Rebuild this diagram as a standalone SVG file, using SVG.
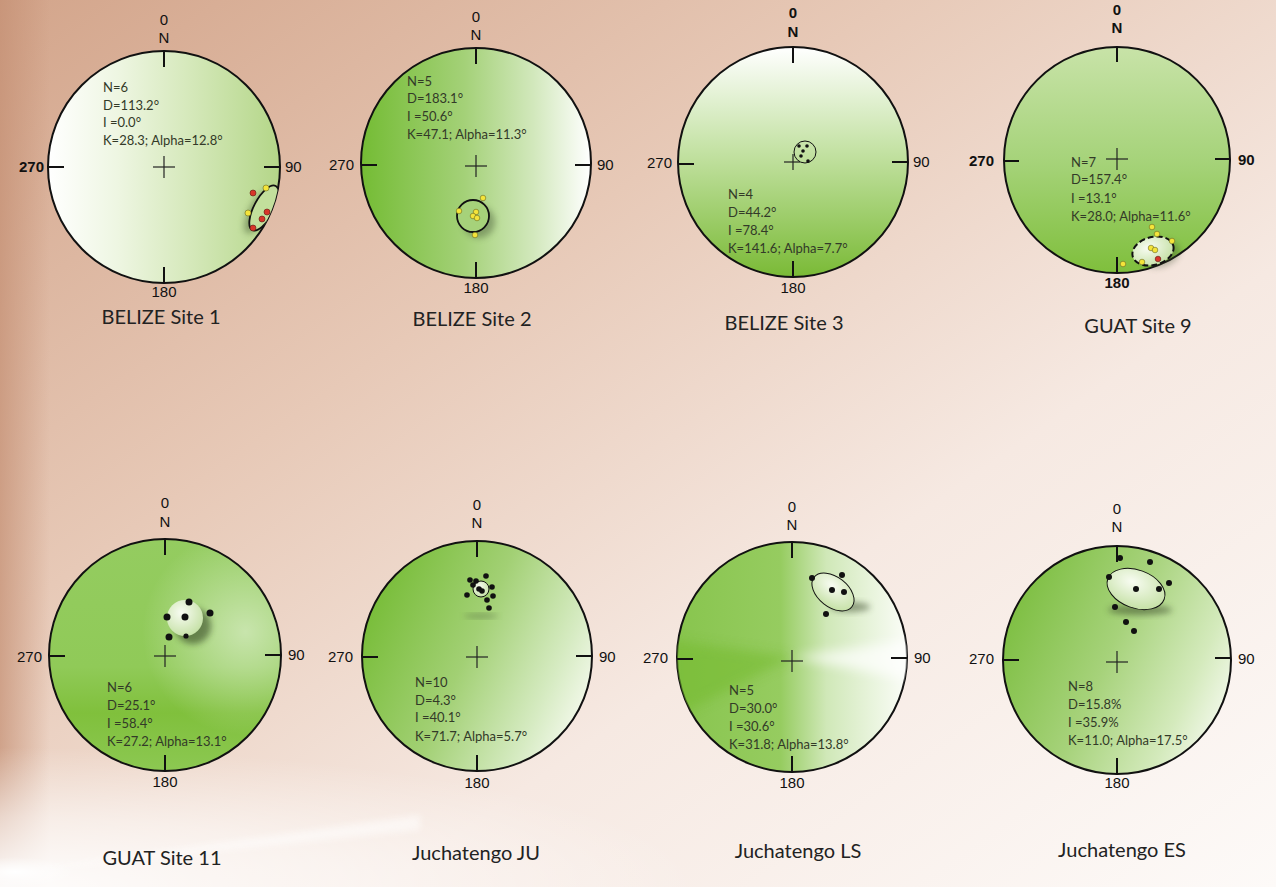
<svg xmlns="http://www.w3.org/2000/svg" width="1276" height="887" viewBox="0 0 1276 887">
<defs>
<style>
.rim{stroke:#111;stroke-width:2}
.tk{stroke:#111;stroke-width:2}
.cr{stroke:#222;stroke-width:1.2}
.lb{font-family:"Liberation Sans",Arial,sans-serif;font-size:15px;fill:#111}
.lbb{font-family:"Liberation Sans",Arial,sans-serif;font-size:15px;fill:#111;font-weight:bold}
.st{font-family:Lato,"Open Sans",sans-serif;font-size:13px;fill:#333a28}
.ti{font-family:Lato,"Open Sans",sans-serif;font-size:20px;fill:#222;text-anchor:middle}
.yd{fill:#f4e43a;stroke:#6a6a20;stroke-width:0.6}
.rd{fill:#d8352a;stroke:#5a1a10;stroke-width:0.6}
.bd{fill:#111}
</style>
<linearGradient id="bg" x1="0" y1="0" x2="1" y2="1">
<stop offset="0" stop-color="#d3a58b"/>
<stop offset="0.35" stop-color="#e7c9b7"/>
<stop offset="0.65" stop-color="#f6e9e2"/>
<stop offset="1" stop-color="#fdfaf8"/>
</linearGradient>
<linearGradient id="edge" x1="0" y1="0" x2="1" y2="0">
<stop offset="0" stop-color="#c48f73" stop-opacity="0.7"/>
<stop offset="1" stop-color="#c48f73" stop-opacity="0"/>
</linearGradient>
<radialGradient id="glow" cx="0" cy="887" r="700" gradientUnits="userSpaceOnUse" gradientTransform="translate(0 887) scale(1 0.2) translate(0 -887)">
<stop offset="0" stop-color="#ffffff" stop-opacity="0.95"/>
<stop offset="0.5" stop-color="#ffffff" stop-opacity="0.55"/>
<stop offset="1" stop-color="#ffffff" stop-opacity="0"/>
</radialGradient>
<radialGradient id="spot" cx="15" cy="872" r="60" gradientUnits="userSpaceOnUse" gradientTransform="translate(15 872) scale(1 0.25) translate(-15 -872)">
<stop offset="0" stop-color="#ffffff" stop-opacity="1"/>
<stop offset="1" stop-color="#ffffff" stop-opacity="0"/>
</radialGradient>
<linearGradient id="g1" x1="0" y1="0" x2="1" y2="0">
<stop offset="0" stop-color="#ffffff"/>
<stop offset="0.3" stop-color="#eef6e2"/>
<stop offset="0.6" stop-color="#d6e9bc"/>
<stop offset="1" stop-color="#b4d688"/>
</linearGradient>
<linearGradient id="g2" x1="0" y1="0" x2="1" y2="0">
<stop offset="0" stop-color="#74bc34"/>
<stop offset="0.45" stop-color="#a4d178"/>
<stop offset="0.75" stop-color="#d2e8bc"/>
<stop offset="1" stop-color="#ffffff"/>
</linearGradient>
<linearGradient id="g3" x1="0" y1="0" x2="0" y2="1">
<stop offset="0" stop-color="#ffffff"/>
<stop offset="0.45" stop-color="#c4e2a4"/>
<stop offset="1" stop-color="#7aba36"/>
</linearGradient>
<linearGradient id="g4" x1="0" y1="0" x2="0" y2="1">
<stop offset="0" stop-color="#c8e3a8"/>
<stop offset="0.5" stop-color="#a6d37a"/>
<stop offset="1" stop-color="#7fbf3c"/>
</linearGradient>
<linearGradient id="g5" x1="0" y1="0" x2="0" y2="1">
<stop offset="0" stop-color="#94cc60"/>
<stop offset="0.55" stop-color="#90ca58"/>
<stop offset="0.75" stop-color="#80c03c"/>
<stop offset="1" stop-color="#8cc852"/>
</linearGradient>
<radialGradient id="g5b" cx="0.85" cy="0.4" r="0.45">
<stop offset="0" stop-color="#ffffff" stop-opacity="0.5"/>
<stop offset="1" stop-color="#ffffff" stop-opacity="0"/>
</radialGradient>
<linearGradient id="g6" x1="0" y1="0.3" x2="1" y2="0.75">
<stop offset="0" stop-color="#76bc36"/>
<stop offset="0.45" stop-color="#a2d074"/>
<stop offset="0.8" stop-color="#d6ebc2"/>
<stop offset="1" stop-color="#f8fbf2"/>
</linearGradient>
<linearGradient id="g7" x1="0" y1="0" x2="1" y2="0">
<stop offset="0" stop-color="#88c54e"/>
<stop offset="0.45" stop-color="#96cc60"/>
<stop offset="0.65" stop-color="#d0e8b8"/>
<stop offset="1" stop-color="#fbfdf8"/>
</linearGradient>
<linearGradient id="g8" x1="0" y1="0.3" x2="1" y2="0.75">
<stop offset="0" stop-color="#7cbe40"/>
<stop offset="0.45" stop-color="#a6d27a"/>
<stop offset="0.8" stop-color="#d4eabc"/>
<stop offset="1" stop-color="#f6faf0"/>
</linearGradient>
<radialGradient id="lite" cx="0.4" cy="0.35" r="0.7">
<stop offset="0" stop-color="#f8fcf2"/>
<stop offset="1" stop-color="#c4e0a4"/>
</radialGradient>
<filter id="blur" x="-50%" y="-50%" width="200%" height="200%"><feGaussianBlur stdDeviation="3"/></filter>
<filter id="blur6" x="-50%" y="-50%" width="200%" height="200%"><feGaussianBlur stdDeviation="6"/></filter>
<clipPath id="c1"><circle cx="164" cy="167" r="116"/></clipPath>
<clipPath id="c7"><circle cx="792" cy="657" r="115"/></clipPath>
</defs>

<rect width="1276" height="887" fill="url(#bg)"/>
<rect width="50" height="887" fill="url(#edge)"/>
<rect x="0" y="700" width="720" height="187" fill="url(#glow)"/>
<rect x="0" y="840" width="90" height="47" fill="url(#spot)"/>
<polygon points="15,872 420,815 420,830" fill="#ffffff" opacity="0.5" filter="url(#blur)"/>

<g id="belize1">
<circle cx="164" cy="167" r="116" fill="url(#g1)" class="rim"/>
<line x1="164" y1="51" x2="164" y2="67" class="tk"/>
<line x1="164" y1="283" x2="164" y2="267" class="tk"/>
<line x1="48" y1="167" x2="64" y2="167" class="tk"/>
<line x1="280" y1="167" x2="264" y2="167" class="tk"/>
<line x1="153" y1="167" x2="175" y2="167" class="cr"/>
<line x1="164" y1="156" x2="164" y2="178" class="cr"/>
<text x="164" y="25" class="lb" text-anchor="middle">0</text>
<text x="164" y="43" class="lb" text-anchor="middle">N</text>
<text x="164" y="297" class="lb" text-anchor="middle">180</text>
<text x="44" y="172" class="lbb" text-anchor="end">270</text>
<text x="285" y="172" class="lb">90</text>
<text x="103" y="92" class="st">N=6</text>
<text x="103" y="110" class="st">D=113.2°</text>
<text x="103" y="127" class="st">I =0.0°</text>
<text x="103" y="145" class="st">K=28.3; Alpha=12.8°</text>
<g clip-path="url(#c1)">
<ellipse cx="258" cy="212" rx="24" ry="9" transform="rotate(-62 258 212)" fill="#556b40" opacity="0.55" filter="url(#blur)"/>
<ellipse cx="264" cy="208" rx="25" ry="10" transform="rotate(-62 264 208)" fill="#c2df9c" stroke="#111" stroke-width="1.8"/>
</g>
<circle cx="253" cy="193" r="3" class="rd"/>
<circle cx="266" cy="188" r="3" class="yd"/>
<circle cx="248" cy="213" r="3" class="yd"/>
<circle cx="267" cy="212" r="3" class="rd"/>
<circle cx="262" cy="219" r="3" class="rd"/>
<circle cx="253" cy="228" r="3" class="rd"/>
<text x="161" y="324" class="ti">BELIZE Site 1</text>
</g>

<g id="belize2">
<circle cx="476" cy="163" r="115" fill="url(#g2)" class="rim"/>
<line x1="476" y1="48" x2="476" y2="64" class="tk"/>
<line x1="476" y1="278" x2="476" y2="262" class="tk"/>
<line x1="361" y1="165" x2="377" y2="165" class="tk"/>
<line x1="591" y1="165" x2="575" y2="165" class="tk"/>
<line x1="465" y1="166" x2="487" y2="166" class="cr"/>
<line x1="476" y1="155" x2="476" y2="177" class="cr"/>
<text x="476" y="22" class="lb" text-anchor="middle">0</text>
<text x="476" y="40" class="lb" text-anchor="middle">N</text>
<text x="476" y="293" class="lb" text-anchor="middle">180</text>
<text x="354" y="170" class="lb" text-anchor="end">270</text>
<text x="597" y="170" class="lb">90</text>
<text x="407" y="86" class="st">N=5</text>
<text x="407" y="103" class="st">D=183.1°</text>
<text x="407" y="121" class="st">I =50.6°</text>
<text x="407" y="139" class="st">K=47.1; Alpha=11.3°</text>
<circle cx="479" cy="222" r="16" fill="#4a5a3a" opacity="0.45" filter="url(#blur)"/>
<circle cx="473" cy="216" r="16" fill="#a6d27a" stroke="#111" stroke-width="1.8"/>
<circle cx="483" cy="198" r="2.8" class="yd"/>
<circle cx="459" cy="211" r="2.8" class="yd"/>
<circle cx="476" cy="212" r="2.8" class="yd"/>
<circle cx="473" cy="216" r="2.8" class="yd"/>
<circle cx="477" cy="218" r="2.8" class="yd"/>
<circle cx="475" cy="235" r="2.8" class="yd"/>
<text x="472" y="326" class="ti">BELIZE Site 2</text>
</g>

<g id="belize3">
<circle cx="793" cy="162" r="115" fill="url(#g3)" class="rim"/>
<line x1="793" y1="47" x2="793" y2="63" class="tk"/>
<line x1="793" y1="277" x2="793" y2="261" class="tk"/>
<line x1="678" y1="164" x2="694" y2="164" class="tk"/>
<line x1="908" y1="162" x2="892" y2="162" class="tk"/>
<line x1="784" y1="162" x2="800" y2="162" class="cr"/>
<line x1="793" y1="154" x2="793" y2="170" class="cr"/>
<text x="793" y="18" class="lbb" text-anchor="middle">0</text>
<text x="793" y="37" class="lbb" text-anchor="middle">N</text>
<text x="793" y="293" class="lb" text-anchor="middle">180</text>
<text x="672" y="168" class="lb" text-anchor="end">270</text>
<text x="913" y="167" class="lb">90</text>
<text x="728" y="199" class="st">N=4</text>
<text x="728" y="217" class="st">D=44.2°</text>
<text x="728" y="235" class="st">I =78.4°</text>
<text x="728" y="253" class="st">K=141.6; Alpha=7.7°</text>
<circle cx="805" cy="152" r="11" fill="none" stroke="#111" stroke-width="1"/>
<circle cx="799" cy="146" r="1.8" class="bd"/>
<circle cx="807" cy="146" r="1.8" class="bd"/>
<circle cx="803" cy="151" r="1.8" class="bd"/>
<circle cx="801" cy="156" r="1.8" class="bd"/>
<circle cx="808" cy="161" r="1.8" class="bd"/>
<text x="784" y="330" class="ti">BELIZE Site 3</text>
</g>

<g id="guat9">
<circle cx="1117" cy="160" r="113" fill="url(#g4)" class="rim"/>
<line x1="1117" y1="47" x2="1117" y2="62" class="tk"/>
<line x1="1117" y1="273" x2="1117" y2="257" class="tk"/>
<line x1="1004" y1="161" x2="1019" y2="161" class="tk"/>
<line x1="1230" y1="159" x2="1215" y2="159" class="tk"/>
<line x1="1106" y1="159" x2="1128" y2="159" class="cr"/>
<line x1="1117" y1="148" x2="1117" y2="170" class="cr"/>
<text x="1117" y="15" class="lbb" text-anchor="middle">0</text>
<text x="1117" y="33" class="lbb" text-anchor="middle">N</text>
<text x="1117" y="288" class="lbb" text-anchor="middle">180</text>
<text x="994" y="166" class="lbb" text-anchor="end">270</text>
<text x="1238" y="165" class="lbb">90</text>
<text x="1071" y="167" class="st">N=7</text>
<text x="1071" y="184" class="st">D=157.4°</text>
<text x="1071" y="203" class="st">I =13.1°</text>
<text x="1071" y="221" class="st">K=28.0; Alpha=11.6°</text>
<ellipse cx="1160" cy="254" rx="20" ry="13" transform="rotate(-15 1160 254)" fill="#3a4a2a" opacity="0.35" filter="url(#blur)"/>
<ellipse cx="1153" cy="251" rx="21" ry="14" transform="rotate(-15 1153 251)" fill="url(#lite)" stroke="#111" stroke-width="2" stroke-dasharray="6 3"/>
<circle cx="1152" cy="227" r="2.8" class="yd"/>
<circle cx="1157" cy="234" r="2.8" class="yd"/>
<circle cx="1172" cy="241" r="2.8" class="yd"/>
<circle cx="1151" cy="248" r="2.8" class="yd"/>
<circle cx="1155" cy="250" r="2.8" class="yd"/>
<circle cx="1142" cy="262" r="2.8" class="yd"/>
<circle cx="1123" cy="264" r="2.8" class="yd"/>
<circle cx="1158" cy="259" r="2.8" class="rd"/>
<text x="1138" y="333" class="ti">GUAT Site 9</text>
</g>

<g id="guat11">
<circle cx="165" cy="655" r="116" fill="url(#g5)" class="rim"/>
<circle cx="165" cy="655" r="115" fill="url(#g5b)"/>
<line x1="165" y1="539" x2="165" y2="555" class="tk"/>
<line x1="165" y1="771" x2="165" y2="755" class="tk"/>
<line x1="49" y1="656" x2="65" y2="656" class="tk"/>
<line x1="281" y1="655" x2="265" y2="655" class="tk"/>
<line x1="154" y1="656" x2="176" y2="656" class="cr"/>
<line x1="165" y1="645" x2="165" y2="667" class="cr"/>
<text x="165" y="508" class="lb" text-anchor="middle">0</text>
<text x="165" y="527" class="lb" text-anchor="middle">N</text>
<text x="165" y="787" class="lb" text-anchor="middle">180</text>
<text x="42" y="662" class="lb" text-anchor="end">270</text>
<text x="288" y="660" class="lb">90</text>
<text x="107" y="692" class="st">N=6</text>
<text x="107" y="710" class="st">D=25.1°</text>
<text x="107" y="728" class="st">I =58.4°</text>
<text x="107" y="746" class="st">K=27.2; Alpha=13.1°</text>
<circle cx="193" cy="626" r="18" fill="#2a3a1a" opacity="0.55" filter="url(#blur)"/>
<circle cx="185" cy="618" r="18" fill="url(#lite)"/>
<circle cx="189" cy="602" r="3.5" class="bd"/>
<circle cx="210" cy="613" r="3.5" class="bd"/>
<circle cx="167" cy="617" r="3.5" class="bd"/>
<circle cx="185" cy="617" r="3.5" class="bd"/>
<circle cx="169" cy="637" r="3.5" class="bd"/>
<circle cx="186" cy="636" r="2.6" class="bd"/>
<text x="162" y="865" class="ti">GUAT Site 11</text>
</g>

<g id="juchatengo-ju">
<circle cx="477" cy="656" r="115" fill="url(#g6)" class="rim"/>
<line x1="477" y1="541" x2="477" y2="557" class="tk"/>
<line x1="477" y1="771" x2="477" y2="755" class="tk"/>
<line x1="362" y1="657" x2="378" y2="657" class="tk"/>
<line x1="592" y1="656" x2="576" y2="656" class="tk"/>
<line x1="466" y1="657" x2="488" y2="657" class="cr"/>
<line x1="477" y1="646" x2="477" y2="668" class="cr"/>
<text x="477" y="510" class="lb" text-anchor="middle">0</text>
<text x="477" y="528" class="lb" text-anchor="middle">N</text>
<text x="477" y="788" class="lb" text-anchor="middle">180</text>
<text x="353" y="662" class="lb" text-anchor="end">270</text>
<text x="599" y="662" class="lb">90</text>
<text x="415" y="687" class="st">N=10</text>
<text x="415" y="705" class="st">D=4.3°</text>
<text x="415" y="722" class="st">I =40.1°</text>
<text x="415" y="741" class="st">K=71.7; Alpha=5.7°</text>
<ellipse cx="481" cy="616" rx="17" ry="2" fill="#4a5a3a" opacity="0.5" filter="url(#blur)"/>
<circle cx="481" cy="589" r="8" fill="url(#lite)" stroke="#111" stroke-width="1"/>
<circle cx="470" cy="580" r="2.8" class="bd"/>
<circle cx="476" cy="581" r="2.8" class="bd"/>
<circle cx="486" cy="576" r="2.8" class="bd"/>
<circle cx="473" cy="585" r="2.8" class="bd"/>
<circle cx="479" cy="589" r="2.8" class="bd"/>
<circle cx="482" cy="591" r="2.8" class="bd"/>
<circle cx="492" cy="587" r="2.8" class="bd"/>
<circle cx="467" cy="595" r="2.8" class="bd"/>
<circle cx="493" cy="596" r="2.8" class="bd"/>
<circle cx="487" cy="600" r="2.8" class="bd"/>
<circle cx="489" cy="608" r="2.8" class="bd"/>
<text x="476" y="860" class="ti">Juchatengo JU</text>
</g>

<g id="juchatengo-ls">
<circle cx="792" cy="657" r="115" fill="url(#g7)" class="rim"/>
<g clip-path="url(#c7)">
<polygon points="792,657 910,640 910,680" fill="#ffffff" opacity="0.7" filter="url(#blur6)"/>
<polygon points="792,657 670,640 670,720" fill="#74ba2e" opacity="0.55" filter="url(#blur6)"/>
</g>
<line x1="792" y1="542" x2="792" y2="558" class="tk"/>
<line x1="792" y1="772" x2="792" y2="756" class="tk"/>
<line x1="677" y1="659" x2="693" y2="659" class="tk"/>
<line x1="907" y1="658" x2="891" y2="658" class="tk"/>
<line x1="781" y1="661" x2="803" y2="661" class="cr"/>
<line x1="792" y1="650" x2="792" y2="672" class="cr"/>
<text x="792" y="512" class="lb" text-anchor="middle">0</text>
<text x="792" y="530" class="lb" text-anchor="middle">N</text>
<text x="792" y="788" class="lb" text-anchor="middle">180</text>
<text x="668" y="663" class="lb" text-anchor="end">270</text>
<text x="914" y="663" class="lb">90</text>
<text x="729" y="695" class="st">N=5</text>
<text x="729" y="713" class="st">D=30.0°</text>
<text x="729" y="731" class="st">I =30.6°</text>
<text x="729" y="749" class="st">K=31.8; Alpha=13.8°</text>
<ellipse cx="850" cy="607" rx="20" ry="5" fill="#3a4a2a" opacity="0.5" filter="url(#blur)"/>
<ellipse cx="833" cy="592" rx="24" ry="15" transform="rotate(38 833 592)" fill="url(#lite)" stroke="#111" stroke-width="1"/>
<circle cx="812" cy="578" r="3" class="bd"/>
<circle cx="842" cy="575" r="3" class="bd"/>
<circle cx="832" cy="590" r="3" class="bd"/>
<circle cx="844" cy="592" r="3" class="bd"/>
<circle cx="826" cy="614" r="3" class="bd"/>
<text x="798" y="858" class="ti">Juchatengo LS</text>
</g>

<g id="juchatengo-es">
<circle cx="1117" cy="660" r="114" fill="url(#g8)" class="rim"/>
<line x1="1117" y1="546" x2="1117" y2="562" class="tk"/>
<line x1="1117" y1="774" x2="1117" y2="758" class="tk"/>
<line x1="1003" y1="660" x2="1019" y2="660" class="tk"/>
<line x1="1231" y1="658" x2="1215" y2="658" class="tk"/>
<line x1="1106" y1="662" x2="1128" y2="662" class="cr"/>
<line x1="1117" y1="651" x2="1117" y2="673" class="cr"/>
<text x="1117" y="514" class="lb" text-anchor="middle">0</text>
<text x="1117" y="532" class="lb" text-anchor="middle">N</text>
<text x="1117" y="788" class="lb" text-anchor="middle">180</text>
<text x="994" y="664" class="lb" text-anchor="end">270</text>
<text x="1238" y="664" class="lb">90</text>
<text x="1068" y="691" class="st">N=8</text>
<text x="1068" y="709" class="st">D=15.8%</text>
<text x="1068" y="727" class="st">I =35.9%</text>
<text x="1068" y="745" class="st">K=11.0; Alpha=17.5°</text>
<ellipse cx="1140" cy="610" rx="32" ry="5" fill="#3a4a2a" opacity="0.55" filter="url(#blur)"/>
<ellipse cx="1136" cy="589" rx="30" ry="19" transform="rotate(20 1136 589)" fill="url(#lite)" stroke="#111" stroke-width="1"/>
<circle cx="1120" cy="558" r="3" class="bd"/>
<circle cx="1150" cy="562" r="3" class="bd"/>
<circle cx="1109" cy="577" r="3" class="bd"/>
<circle cx="1169" cy="583" r="3" class="bd"/>
<circle cx="1136" cy="589" r="3" class="bd"/>
<circle cx="1159" cy="589" r="3" class="bd"/>
<circle cx="1115" cy="607" r="3" class="bd"/>
<circle cx="1126" cy="622" r="3" class="bd"/>
<circle cx="1134" cy="631" r="3" class="bd"/>
<text x="1122" y="857" class="ti">Juchatengo ES</text>
</g>
</svg>
